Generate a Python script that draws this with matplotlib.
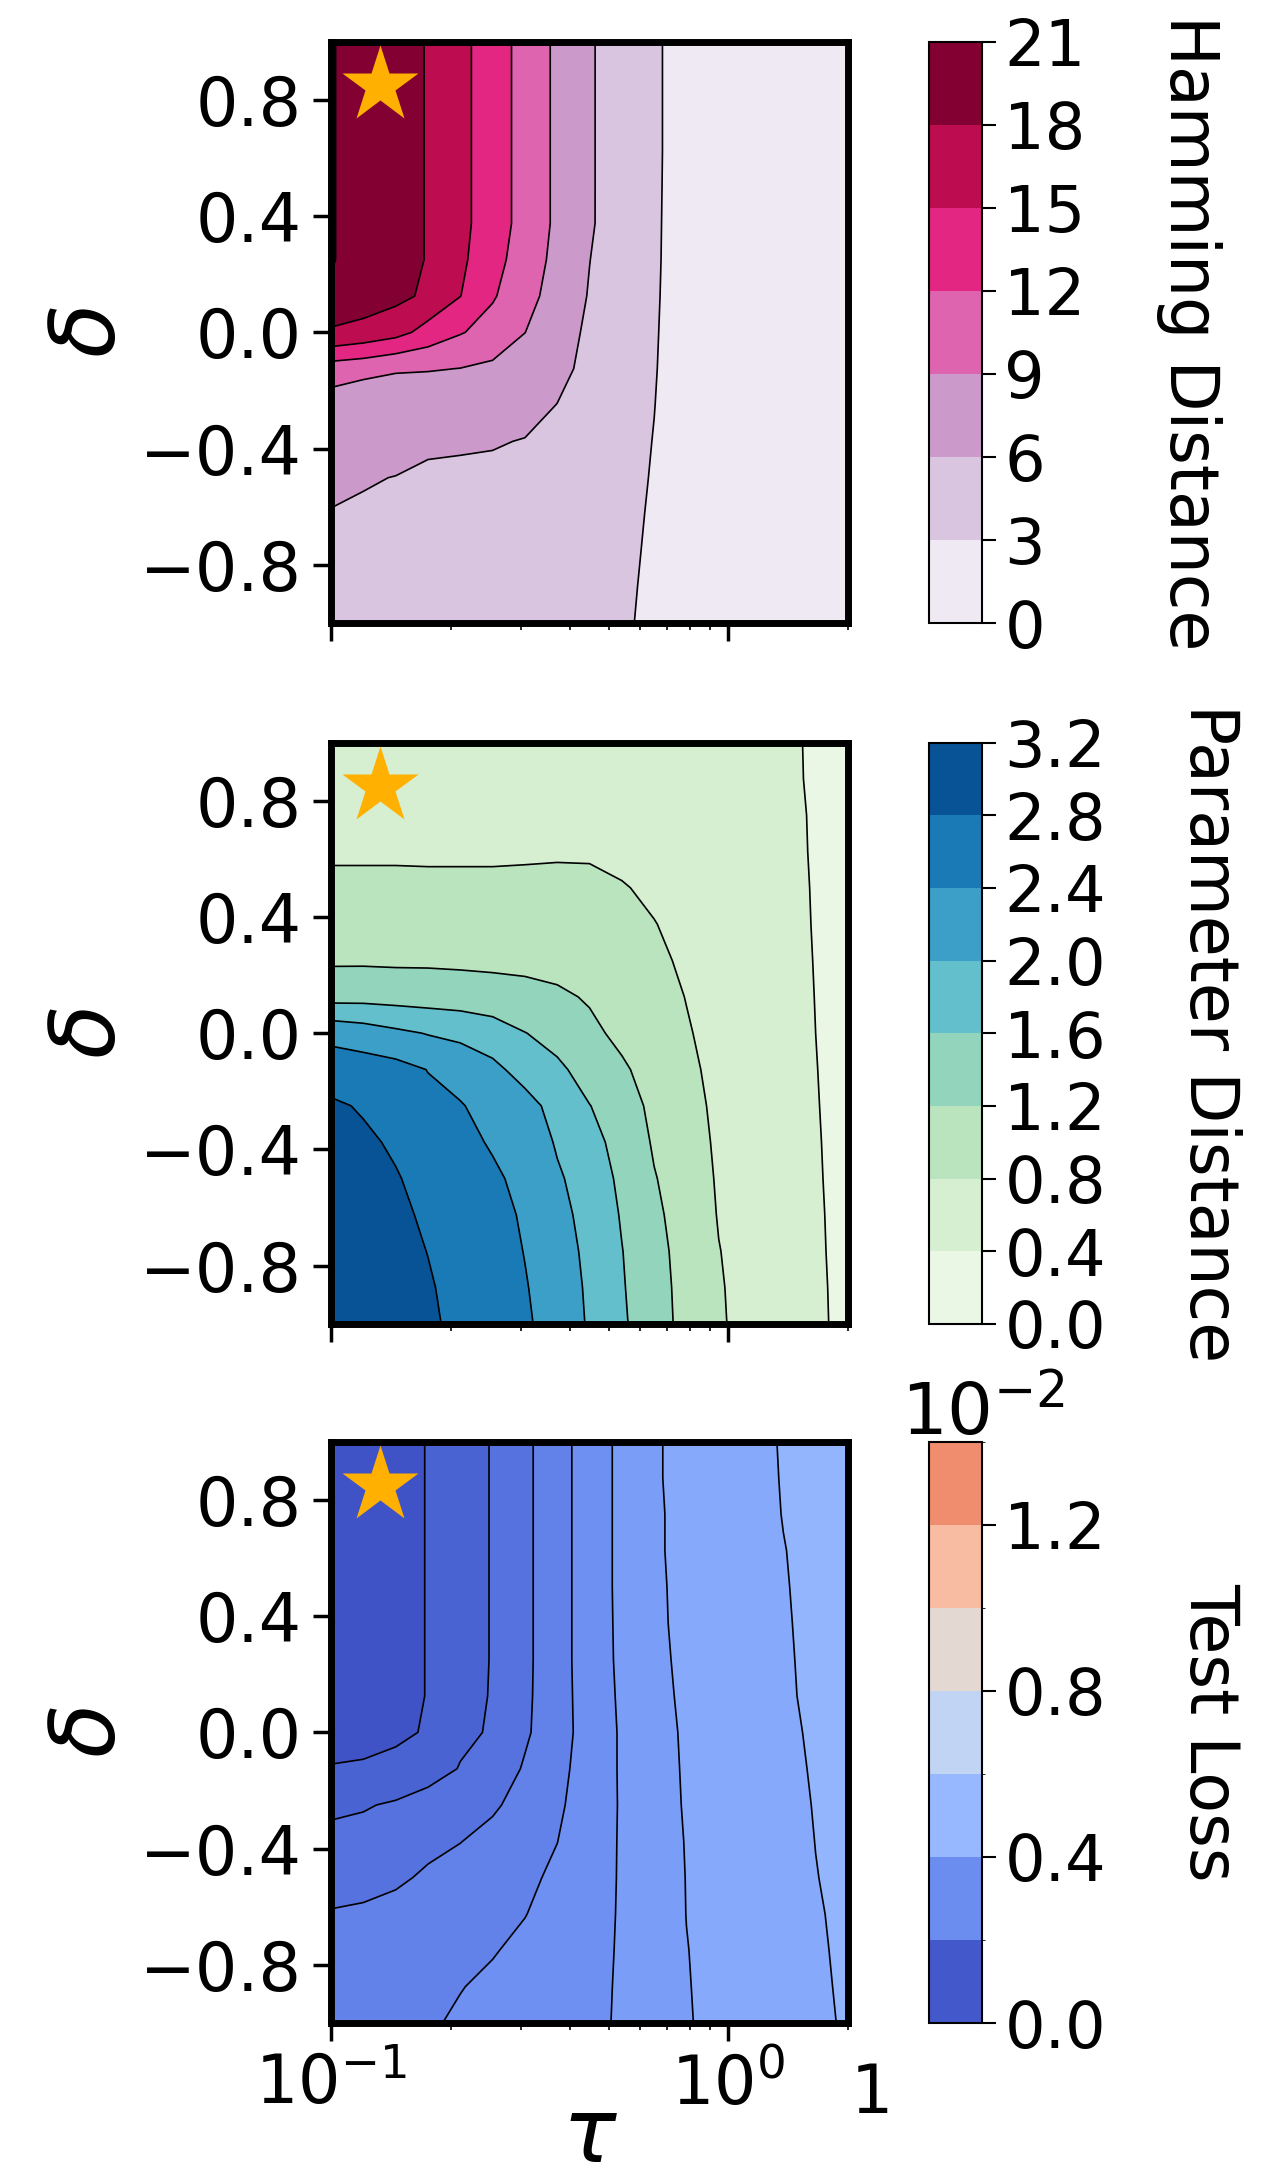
import numpy as np
import matplotlib
matplotlib.use("Agg")
import matplotlib.pyplot as plt
from matplotlib.colors import ListedColormap, BoundaryNorm, Normalize
from matplotlib.cm import ScalarMappable
from matplotlib.ticker import NullFormatter

# grid (tau on log axis, delta from +1 down to -1)
tau = [0.1, 0.1206, 0.1455, 0.1754, 0.2115, 0.2550, 0.3076, 0.3709, 0.4472,
       0.5393, 0.6503, 0.7842, 0.9456, 1.140, 1.375, 1.658, 2.0]
delta = [1.0, 0.875, 0.75, 0.625, 0.5, 0.375, 0.25, 0.125, 0.0,
         -0.125, -0.25, -0.375, -0.5, -0.625, -0.75, -0.875, -1.0]

# one list per tau column, values for delta = +1 ... -1
hamming_by_tau = [
    [17.7, 17.7, 17.7, 17.7, 17.7, 17.7, 17.7, 18.6, 17.9, 10.5, 7.6, 7.0, 6.5, 5.9, 5.4, 5.0, 4.6],
    [20.0, 20.0, 20.0, 20.0, 20.0, 20.0, 20.0, 19.5, 17.07, 10.0, 6.67, 6.45, 6.15, 5.75, 5.3, 4.9, 4.5],
    [19.3, 19.3, 19.3, 19.3, 19.3, 19.3, 19.3, 18.78, 16.0, 9.2, 7.64, 6.9, 5.95, 5.5, 5.1, 4.75, 4.4],
    [17.8, 17.8, 17.8, 17.8, 17.8, 17.8, 17.8, 17.4, 13.87, 9.2, 6.7, 6.3, 5.7, 5.3, 4.95, 4.6, 4.3],
    [16.0, 16.0, 16.0, 16.0, 16.0, 16.0, 15.6, 15.05, 12.2, 8.95, 7.3, 6.25, 5.6, 5.2, 4.85, 4.5, 4.2],
    [12.9, 12.9, 12.9, 12.9, 12.9, 12.9, 12.8, 12.3, 10.8, 8.46, 7.2, 6.15, 5.55, 5.1, 4.75, 4.4, 4.1],
    [11.3, 11.3, 11.3, 11.3, 11.3, 11.3, 10.8, 9.8, 9.02, 7.9, 6.9, 5.9, 5.4, 5.0, 4.65, 4.3, 4.0],
    [8.3, 8.3, 8.3, 8.3, 8.3, 8.3, 8.0, 7.95, 7.5, 6.9, 5.95, 5.5, 5.15, 4.8, 4.5, 4.2, 3.9],
    [6.4, 6.4, 6.4, 6.4, 6.4, 6.4, 6.05, 5.8, 5.35, 5.05, 4.85, 4.7, 4.5, 4.3, 4.1, 3.85, 3.6],
    [3.9, 3.9, 3.9, 3.9, 3.9, 3.88, 3.85, 3.8, 3.75, 3.7, 3.65, 3.6, 3.55, 3.5, 3.47, 3.43, 3.4],
    [3.3, 3.3, 3.3, 3.3, 3.28, 3.26, 3.24, 3.2, 3.15, 3.1, 3.03, 2.95, 2.87, 2.77, 2.65, 2.5, 2.3],
    [2.05, 2.05, 2.05, 2.05, 2.05, 2.04, 2.03, 2.02, 2.0, 1.98, 1.95, 1.93, 1.9, 1.85, 1.8, 1.7, 1.6],
    [1.5, 1.5, 1.5, 1.5, 1.5, 1.5, 1.5, 1.5, 1.5, 1.48, 1.46, 1.44, 1.42, 1.4, 1.37, 1.33, 1.3],
    [1.1, 1.1, 1.1, 1.1, 1.1, 1.1, 1.1, 1.1, 1.09, 1.08, 1.07, 1.05, 1.03, 1.01, 0.99, 0.97, 0.95],
    [0.8, 0.8, 0.8, 0.8, 0.8, 0.8, 0.8, 0.79, 0.78, 0.77, 0.76, 0.75, 0.74, 0.73, 0.72, 0.71, 0.7],
    [0.6, 0.6, 0.6, 0.6, 0.6, 0.6, 0.6, 0.59, 0.58, 0.57, 0.56, 0.56, 0.55, 0.54, 0.53, 0.53, 0.52],
    [0.5, 0.5, 0.5, 0.5, 0.5, 0.5, 0.5, 0.49, 0.49, 0.48, 0.48, 0.47, 0.47, 0.46, 0.46, 0.45, 0.45],
]

param_by_tau = [
    [0.7, 0.7, 0.7, 0.75, 0.88, 1.0, 1.15, 1.46, 2.29, 2.6, 2.86, 2.95, 3.02, 3.07, 3.1, 3.13, 3.15],
    [0.7, 0.7, 0.7, 0.75, 0.88, 1.0, 1.15, 1.47, 2.2, 2.58, 2.76, 2.87, 2.95, 3.0, 3.04, 3.07, 3.09],
    [0.7, 0.7, 0.7, 0.75, 0.88, 1.0, 1.14, 1.45, 2.08, 2.53, 2.65, 2.74, 2.83, 2.9, 2.95, 2.99, 3.02],
    [0.7, 0.7, 0.7, 0.75, 0.87, 1.0, 1.14, 1.43, 1.98, 2.39, 2.5, 2.58, 2.65, 2.72, 2.79, 2.85, 2.9],
    [0.7, 0.7, 0.7, 0.75, 0.87, 1.0, 1.13, 1.4, 1.92, 2.22, 2.43, 2.48, 2.53, 2.57, 2.6, 2.62, 2.64],
    [0.7, 0.7, 0.7, 0.75, 0.87, 1.0, 1.12, 1.36, 1.8, 2.09, 2.22, 2.37, 2.45, 2.5, 2.53, 2.55, 2.57],
    [0.7, 0.7, 0.7, 0.76, 0.87, 0.99, 1.13, 1.29, 1.61, 1.85, 2.14, 2.24, 2.31, 2.36, 2.39, 2.42, 2.44],
    [0.68, 0.68, 0.69, 0.77, 0.87, 0.98, 1.1, 1.25, 1.45, 1.68, 1.85, 1.96, 2.05, 2.12, 2.18, 2.23, 2.27],
    [0.68, 0.68, 0.69, 0.77, 0.86, 0.96, 1.06, 1.17, 1.27, 1.42, 1.61, 1.73, 1.81, 1.86, 1.9, 1.93, 1.95],
    [0.66, 0.66, 0.67, 0.72, 0.82, 0.9, 0.97, 1.04, 1.12, 1.25, 1.37, 1.45, 1.52, 1.57, 1.61, 1.63, 1.65],
    [0.64, 0.64, 0.65, 0.68, 0.74, 0.81, 0.87, 0.93, 0.99, 1.05, 1.11, 1.16, 1.22, 1.27, 1.31, 1.34, 1.37],
    [0.6, 0.6, 0.61, 0.63, 0.66, 0.7, 0.74, 0.79, 0.83, 0.88, 0.92, 0.96, 1.0, 1.03, 1.06, 1.07, 1.07],
    [0.55, 0.55, 0.56, 0.57, 0.59, 0.61, 0.63, 0.65, 0.67, 0.69, 0.72, 0.74, 0.76, 0.78, 0.81, 0.83, 0.84],
    [0.5, 0.5, 0.51, 0.52, 0.53, 0.54, 0.55, 0.56, 0.57, 0.58, 0.6, 0.61, 0.62, 0.63, 0.65, 0.66, 0.67],
    [0.46, 0.46, 0.47, 0.47, 0.48, 0.48, 0.49, 0.5, 0.5, 0.51, 0.52, 0.52, 0.53, 0.53, 0.54, 0.545, 0.55],
    [0.355, 0.36, 0.37, 0.375, 0.38, 0.385, 0.39, 0.395, 0.4, 0.405, 0.41, 0.415, 0.42, 0.425, 0.43, 0.435, 0.44],
    [0.3, 0.3, 0.3, 0.305, 0.305, 0.31, 0.31, 0.315, 0.315, 0.32, 0.32, 0.325, 0.325, 0.33, 0.33, 0.335, 0.335],
]

# test loss in units of 1e-3
loss_by_tau = [
    [0.28, 0.28, 0.28, 0.28, 0.28, 0.28, 0.28, 0.28, 0.36, 0.52, 0.9, 1.14, 1.32, 1.53, 1.65, 1.76, 1.85],
    [0.33, 0.33, 0.33, 0.33, 0.33, 0.33, 0.33, 0.33, 0.4, 0.535, 0.96, 1.17, 1.37, 1.56, 1.7, 1.8, 1.9],
    [0.42, 0.42, 0.42, 0.42, 0.42, 0.42, 0.42, 0.42, 0.46, 0.56, 1.066, 1.27, 1.44, 1.62, 1.76, 1.87, 1.96],
    [0.51, 0.51, 0.51, 0.51, 0.51, 0.51, 0.51, 0.51, 0.52, 0.75, 1.24, 1.4, 1.56, 1.71, 1.83, 1.91, 1.97],
    [0.78, 0.78, 0.78, 0.78, 0.78, 0.78, 0.78, 0.8, 0.88, 1.03, 1.27, 1.49, 1.68, 1.8, 1.9, 1.99, 2.04],
    [1.03, 1.03, 1.03, 1.03, 1.03, 1.03, 1.03, 1.04, 1.06, 1.22, 1.43, 1.65, 1.78, 1.88, 1.98, 2.06, 2.12],
    [1.4, 1.4, 1.4, 1.4, 1.4, 1.4, 1.4, 1.41, 1.43, 1.55, 1.7, 1.82, 1.92, 1.99, 2.08, 2.15, 2.2],
    [1.82, 1.82, 1.82, 1.82, 1.82, 1.82, 1.82, 1.82, 1.83, 1.86, 1.92, 1.995, 2.08, 2.15, 2.21, 2.26, 2.3],
    [2.24, 2.24, 2.24, 2.24, 2.24, 2.24, 2.24, 2.22, 2.19, 2.24, 2.27, 2.3, 2.32, 2.35, 2.37, 2.39, 2.41],
    [2.62, 2.62, 2.62, 2.62, 2.62, 2.61, 2.6, 2.58, 2.56, 2.55, 2.54, 2.54, 2.54, 2.54, 2.545, 2.55, 2.55],
    [2.96, 2.96, 2.95, 2.95, 2.94, 2.93, 2.91, 2.88, 2.85, 2.83, 2.81, 2.8, 2.78, 2.77, 2.76, 2.75, 2.74],
    [3.12, 3.12, 3.11, 3.11, 3.1, 3.1, 3.09, 3.08, 3.06, 3.05, 3.04, 3.02, 3.01, 3.005, 2.99, 2.98, 2.97],
    [3.25, 3.25, 3.24, 3.24, 3.23, 3.22, 3.21, 3.2, 3.19, 3.18, 3.17, 3.16, 3.15, 3.14, 3.13, 3.125, 3.12],
    [3.39, 3.39, 3.38, 3.37, 3.36, 3.35, 3.34, 3.33, 3.32, 3.31, 3.3, 3.29, 3.28, 3.27, 3.26, 3.255, 3.25],
    [3.53, 3.52, 3.51, 3.49, 3.48, 3.47, 3.46, 3.45, 3.42, 3.4, 3.385, 3.37, 3.35, 3.33, 3.31, 3.29, 3.27],
    [3.62, 3.62, 3.61, 3.6, 3.59, 3.585, 3.58, 3.575, 3.56, 3.54, 3.52, 3.505, 3.49, 3.47, 3.455, 3.44, 3.42],
    [3.68, 3.68, 3.67, 3.67, 3.66, 3.66, 3.65, 3.65, 3.64, 3.63, 3.62, 3.61, 3.6, 3.58, 3.57, 3.56, 3.55],
]

hamming_levels = [0, 3, 6, 9, 12, 15, 18, 21]
param_levels = [0.0, 0.4, 0.8, 1.2, 1.6, 2.0, 2.4, 2.8, 3.2]
loss_levels = [0.0, 0.5, 1.0, 1.5, 2.0, 2.5, 3.0, 3.5, 4.0]       # 1e-3
loss_cbar_levels = [0.0, 0.2, 0.4, 0.6, 0.8, 1.0, 1.2, 1.4]      # 1e-2
loss_cbar_ticks = [0.0, 0.4, 0.8, 1.2]

star_tau, star_delta = 0.133, 0.85

TICK_FS = 48
CB_FS = 46
LABEL_FS = 64

fig = plt.figure(figsize=(12.64, 21.8), dpi=100)

ax_left, ax_w = 0.2619, 0.409
cb_left, cb_w = 0.735, 0.042
bottoms = [0.7142, 0.3927, 0.0720]
height = 0.2667

X, Y = np.meshgrid(tau, delta)


def style_axes(ax, show_xlabels):
    ax.set_xscale("log")
    ax.set_xlim(0.1, 2.0)
    ax.set_ylim(-1, 1)
    ax.set_yticks([-0.8, -0.4, 0.0, 0.4, 0.8])
    ax.xaxis.set_minor_formatter(NullFormatter())
    for s in ax.spines.values():
        s.set_linewidth(5)
    ax.tick_params(which="major", length=13, width=2.5, labelsize=TICK_FS, pad=8)
    ax.tick_params(which="minor", length=5, width=1.2)
    ax.tick_params(axis="x", labelbottom=show_xlabels)
    ax.set_ylabel(r"$\delta$", fontsize=LABEL_FS, labelpad=4)
    ax.plot(star_tau, star_delta, marker="*", ms=58, color="#FFB000",
            mec="none", zorder=5)


def style_cbar(cb, label):
    cb.outline.set_linewidth(1.5)
    cb.ax.tick_params(length=10, width=1.5, labelsize=CB_FS, pad=6)
    if label:
        cb.set_label(label, rotation=270, fontsize=CB_FS + 2, labelpad=98)


# Hamming distance
ax1 = fig.add_axes([ax_left, bottoms[0], ax_w, height])
Z = np.array(hamming_by_tau).T
cs1 = ax1.contourf(X, Y, Z, levels=hamming_levels, cmap="PuRd")
ax1.contour(X, Y, Z, levels=hamming_levels, colors="k", linewidths=1.2)
style_axes(ax1, False)
cax1 = fig.add_axes([cb_left, bottoms[0], cb_w, height])
cb1 = fig.colorbar(cs1, cax=cax1, ticks=hamming_levels)
style_cbar(cb1, "Hamming Distance")

# parameter distance
ax2 = fig.add_axes([ax_left, bottoms[1], ax_w, height])
Z = np.array(param_by_tau).T
cs2 = ax2.contourf(X, Y, Z, levels=param_levels, cmap="GnBu")
ax2.contour(X, Y, Z, levels=param_levels, colors="k", linewidths=1.2)
style_axes(ax2, False)
cax2 = fig.add_axes([cb_left, bottoms[1], cb_w, height])
cb2 = fig.colorbar(cs2, cax=cax2, ticks=param_levels, format="%.1f")
style_cbar(cb2, "Parameter Distance")

# test loss
ax3 = fig.add_axes([ax_left, bottoms[2], ax_w, height])
Z = np.array(loss_by_tau).T
cs3 = ax3.contourf(X, Y, Z, levels=loss_levels, cmap="coolwarm",
                   norm=Normalize(0, 14))
ax3.contour(X, Y, Z, levels=loss_levels, colors="k", linewidths=1.2)
style_axes(ax3, True)
ax3.set_xlabel(r"$\tau$", fontsize=LABEL_FS, labelpad=-18)
ax3.text(1.046, -0.155, "1", transform=ax3.transAxes, ha="center",
         va="baseline", fontsize=TICK_FS)

cax3 = fig.add_axes([cb_left, bottoms[2], cb_w, height])
band_colors = plt.get_cmap("coolwarm")(0.03 + 0.125 * np.arange(7))
sm = ScalarMappable(norm=BoundaryNorm(loss_cbar_levels, 7),
                    cmap=ListedColormap(band_colors))
cb3 = fig.colorbar(sm, cax=cax3, ticks=loss_cbar_ticks, format="%.1f")
style_cbar(cb3, "Test Loss")
cax3.text(-0.52, 0.985, r"$10^{-2}$", transform=cax3.transAxes,
          ha="left", va="bottom", fontsize=CB_FS + 6)

fig.savefig("out.png", dpi=100)
